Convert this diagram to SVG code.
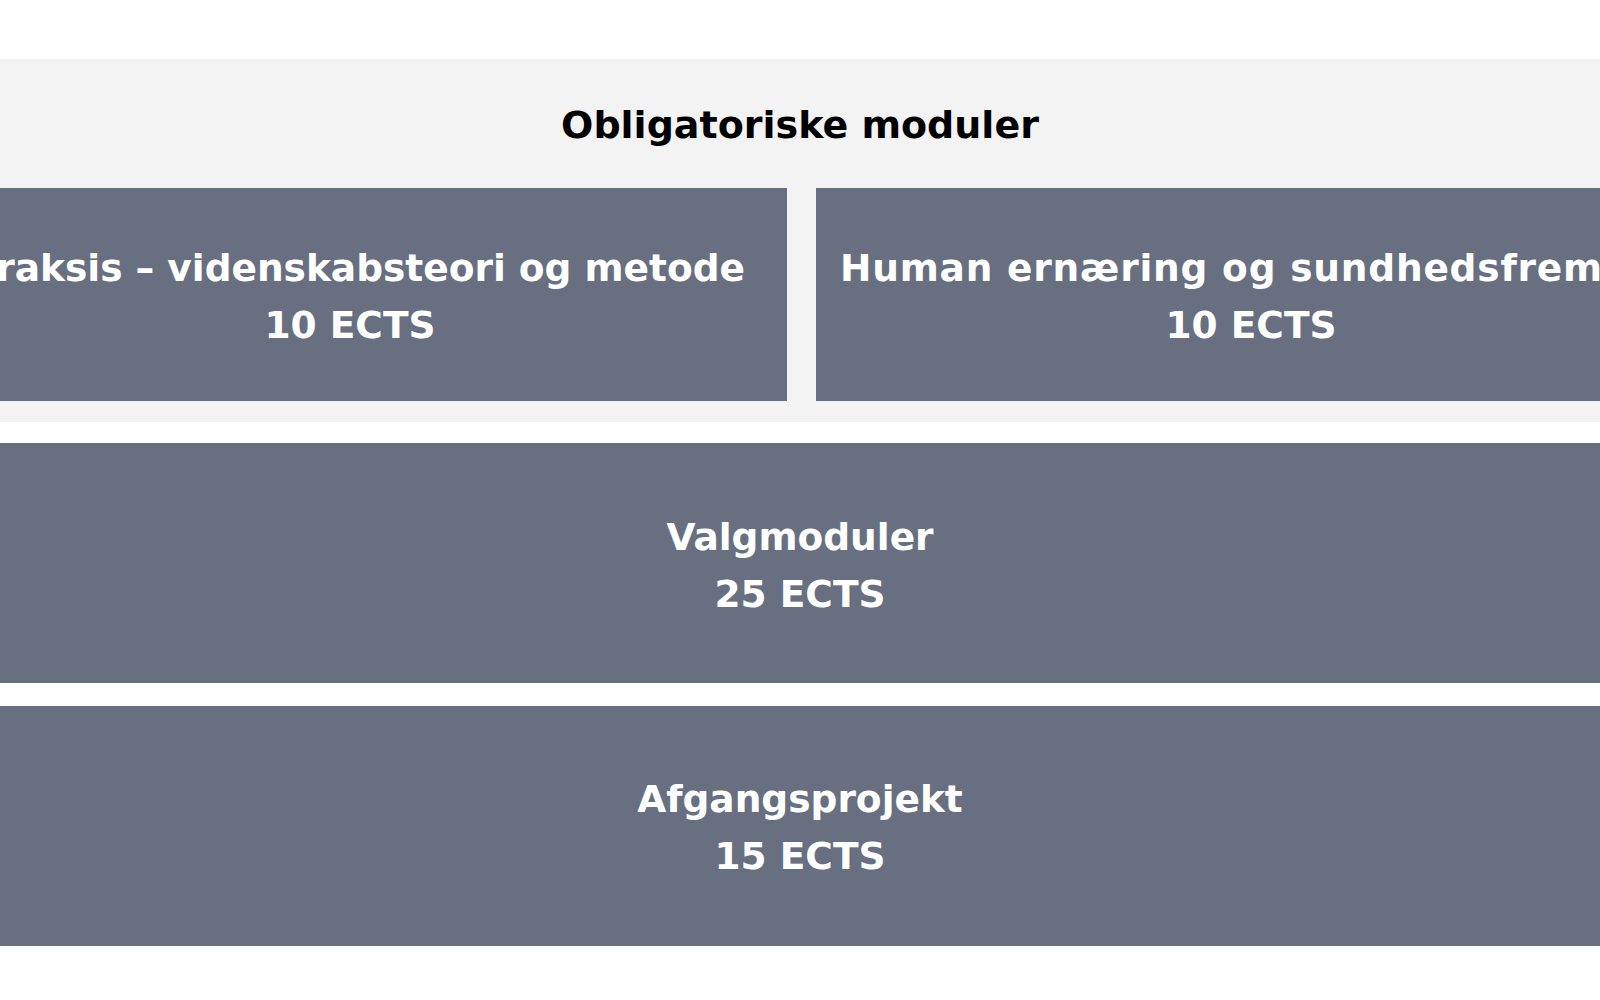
<svg xmlns="http://www.w3.org/2000/svg" width="1600" height="1000" viewBox="0 0 1600 1000">
  <style>
    .mod { fill: #686f81; }
    .lbl { font-family: "DejaVu Sans", "Liberation Sans", sans-serif; font-weight: bold; font-size: 37.5px; fill: #ffffff; }
    .ttl { font-family: "DejaVu Sans", "Liberation Sans", sans-serif; font-weight: bold; font-size: 38px; fill: #000000; }
  </style>
  <rect x="0" y="0" width="1600" height="1000" fill="#ffffff"/>
  <g id="obligatoriske">
    <rect x="-100" y="59" width="1800" height="363" fill="#f3f3f3"/>
    <text class="ttl" x="800" y="138" text-anchor="middle">Obligatoriske moduler</text>
  </g>
  <g id="praksis">
    <rect class="mod" x="-87" y="188" width="874" height="213"/>
    <text class="lbl" x="745" y="281" text-anchor="end">Praksis – videnskabsteori og metode</text>
    <text class="lbl" x="350" y="338" text-anchor="middle">10 ECTS</text>
  </g>
  <g id="human">
    <rect class="mod" x="816" y="188" width="870" height="213"/>
    <text class="lbl" x="840" y="281" letter-spacing="0.8">Human ernæring og sundhedsfremme</text>
    <text class="lbl" x="1251" y="338" text-anchor="middle">10 ECTS</text>
  </g>
  <g id="valgmoduler">
    <rect class="mod" x="-100" y="443" width="1800" height="240"/>
    <text class="lbl" x="800" y="550" text-anchor="middle">Valgmoduler</text>
    <text class="lbl" x="800" y="607" text-anchor="middle">25 ECTS</text>
  </g>
  <g id="afgangsprojekt">
    <rect class="mod" x="-100" y="706" width="1800" height="240"/>
    <text class="lbl" x="800" y="812" text-anchor="middle">Afgangsprojekt</text>
    <text class="lbl" x="800" y="869" text-anchor="middle">15 ECTS</text>
  </g>
  <g id="connectors"/>
</svg>
